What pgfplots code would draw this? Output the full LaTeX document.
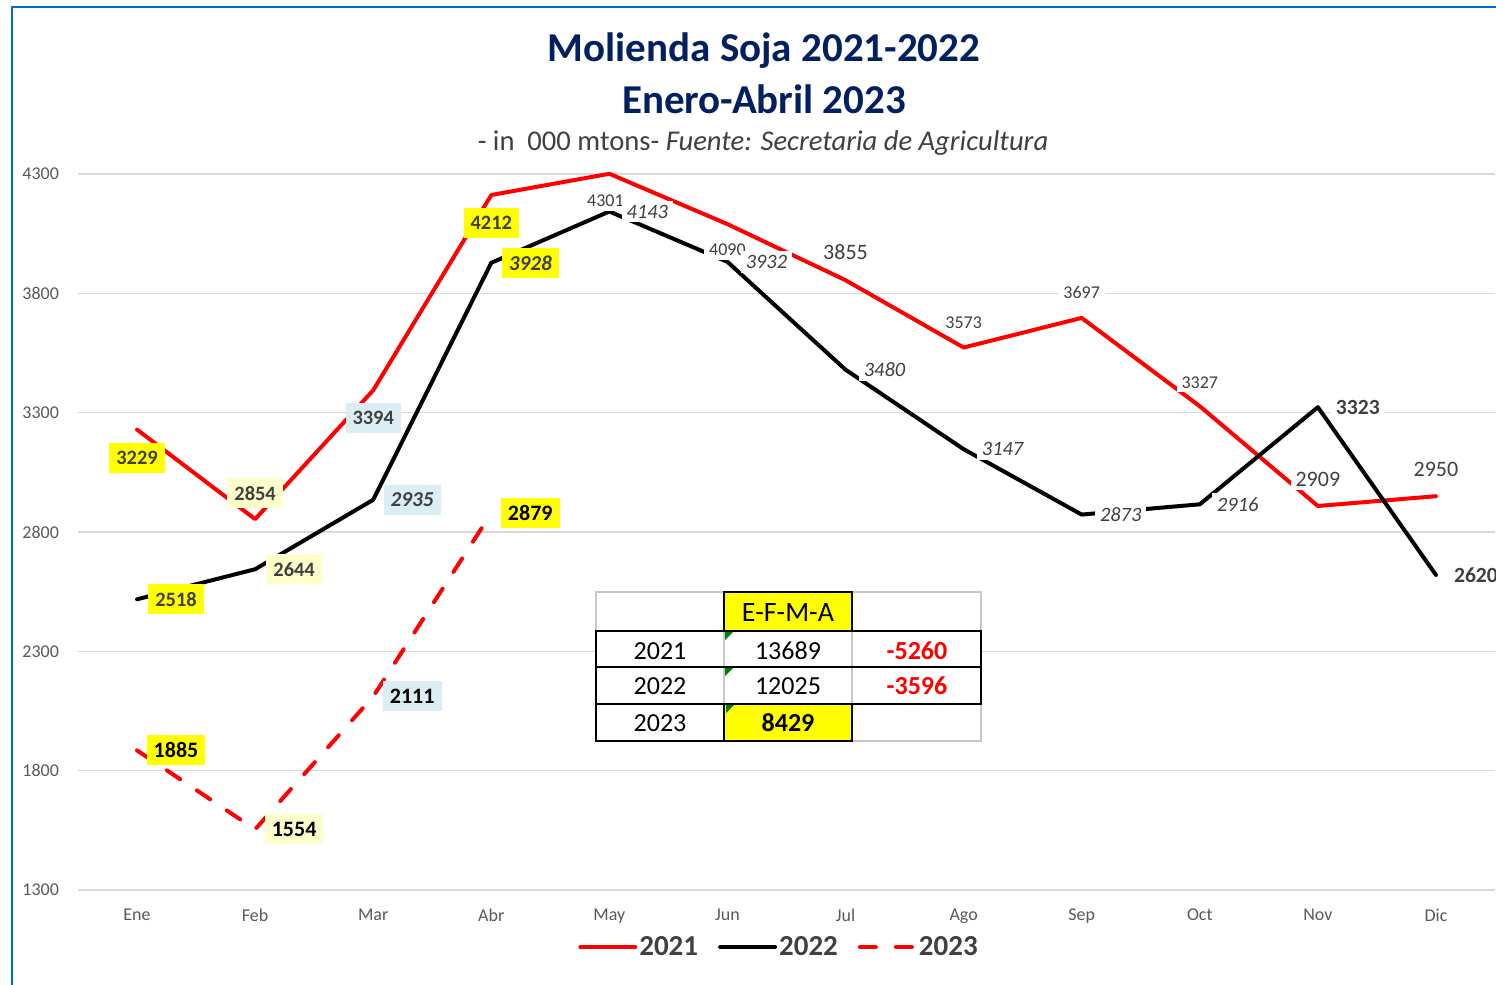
\documentclass[border=0pt]{standalone}
\usepackage{pgfplots}
\pgfplotsset{compat=1.18}
\usepackage{fontspec}
\setmainfont{Carlito}
\definecolor{navy}{RGB}{0,32,96}
\definecolor{gridgray}{RGB}{217,217,217}
\definecolor{txt}{RGB}{64,64,64}
\definecolor{tickc}{RGB}{89,89,89}
\definecolor{ylw}{RGB}{255,255,0}
\definecolor{lylw}{RGB}{255,255,204}
\definecolor{lblue}{RGB}{218,238,243}
\definecolor{framec}{RGB}{0,112,192}
\definecolor{xred}{RGB}{255,0,0}
\definecolor{tgray}{RGB}{200,200,200}
\definecolor{xgreen}{RGB}{0,128,0}
\begin{document}
\begin{tikzpicture}[
  lbase/.style={inner xsep=2.5pt, inner ysep=2pt, fill=white, text=txt, anchor=center},
  lplain/.style={lbase, font=\fontsize{9}{10}\selectfont},
  lbig/.style={lbase, font=\fontsize{11}{12}\selectfont},
  lit/.style={lbase, font=\itshape\fontsize{10.2}{11}\selectfont},
  lbb/.style={lbase, font=\bfseries\fontsize{10.8}{12}\selectfont},
  lbox/.style={lbase, inner xsep=3.5pt, minimum height=15pt, font=\bfseries\fontsize{10.2}{12}\selectfont},
  lboxi/.style={lbox, font=\bfseries\itshape\fontsize{10.6}{12}\selectfont},
  lbox3/.style={lbox, text=black, font=\bfseries\fontsize{11}{12}\selectfont},
]
\useasboundingbox (0pt,0pt) rectangle (748pt,-492.5pt);
\fill[white] (0pt,0pt) rectangle (748pt,-492.5pt);
\draw[framec, line width=1.2pt] (6pt,-500pt) -- (6pt,-3.6pt) -- (760pt,-3.6pt);

\node[text=navy, font=\bfseries\fontsize{20.5}{24}\selectfont] at (382pt,-25.5pt) {Molienda Soja 2021-2022};
\node[text=navy, font=\bfseries\fontsize{20.5}{24}\selectfont] at (382pt,-49.5pt) {Enero-Abril 2023};
\node[text=txt, font=\fontsize{14.3}{16}\selectfont] at (381.5pt,-71.5pt) {- in\ \ 000 mtons- \textit{Fuente: Secretaria de Agricultura}};

\begin{axis}[
  at={(39pt,-445pt)}, anchor=south west,
  scale only axis, width=708.5pt, height=358pt,
  xmin=-0.5, xmax=11.5, ymin=1300, ymax=4300,
  xtick={0,...,11},
  xticklabels={Ene,Feb,Mar,Abr,May,Jun,Jul,Ago,Sep,Oct,Nov,Dic},
  ytick={1300,1800,2300,2800,3300,3800,4300},
  ymajorgrids, grid style={gridgray, line width=0.8pt},
  axis line style={draw=none}, major tick length=0pt,
  tick label style={font=\fontsize{9}{10}\selectfont, text=tickc},
  /pgf/number format/assume math mode=true,
  /pgf/number format/1000 sep={},
  yticklabel style={xshift=-6pt},
  xticklabel style={yshift=-6pt},
  clip=false,
  legend style={at={(0.4947,-0.0796)}, anchor=center, legend columns=3,
    draw=none, fill=none, font=\bfseries\fontsize{14.5}{16}\selectfont, text=txt,
    nodes={inner xsep=1pt},
    /tikz/every odd column/.style={column sep=0pt},
    /tikz/every even column/.style={column sep=9pt}},
  legend image code/.code={\draw (0pt,0pt) -- (27.5pt,0pt);},
]
\addplot[xred, line width=2pt, line join=round, line cap=round] coordinates {
 (0,3229) (1,2854) (2,3394) (3,4212) (4,4301) (5,4090)
 (6,3855) (7,3573) (8,3697) (9,3327) (10,2909) (11,2950)};
\addlegendentry{2021}
\addplot[black, line width=2pt, line join=round, line cap=round] coordinates {
 (0,2518) (1,2644) (2,2935) (3,3928) (4,4143) (5,3932)
 (6,3480) (7,3147) (8,2873) (9,2916) (10,3323) (11,2620)};
\addlegendentry{2022}
\addplot[xred, line width=2pt, line join=round, line cap=round, dash pattern=on 8pt off 10pt] coordinates {
 (0,1885) (1,1554) (2,2111) (3,2879)};
\addlegendentry{2023}

% 2021 labels
\node[lbox, fill=ylw, yshift=-14pt] at (axis cs:0,3229) {3229};
\node[lbox, fill=lylw, yshift=13pt] at (axis cs:1,2854) {2854};
\node[lbox, fill=lblue, yshift=-14pt] at (axis cs:2,3394) {3394};
\node[lbox, fill=ylw, yshift=-14pt] at (axis cs:3,4212) {4212};
\node[lplain, xshift=-2pt, yshift=-13.5pt] at (axis cs:4,4301) {4301};
\node[lplain, yshift=-13pt] at (axis cs:5,4090) {4090};
\node[lbig, yshift=14pt] at (axis cs:6,3855) {3855};
\node[lplain, yshift=12.5pt] at (axis cs:7,3573) {3573};
\node[lplain, yshift=12.5pt] at (axis cs:8,3697) {3697};
\node[lplain, yshift=12pt] at (axis cs:9,3327) {3327};
\node[lbig, yshift=13.5pt] at (axis cs:10,2909) {2909};
\node[lbig, yshift=13.5pt] at (axis cs:11,2950) {2950};
% 2022 labels
\node[lbox, fill=ylw, xshift=19.5pt] at (axis cs:0,2518) {2518};
\node[lbox, fill=lylw, xshift=19.5pt] at (axis cs:1,2644) {2644};
\node[lboxi, fill=lblue, xshift=19.5pt] at (axis cs:2,2935) {2935};
\node[lboxi, fill=ylw, xshift=19.5pt] at (axis cs:3,3928) {3928};
\node[lit, xshift=19pt] at (axis cs:4,4143) {4143};
\node[lit, xshift=19.5pt] at (axis cs:5,3932) {3932};
\node[lit, xshift=19.5pt] at (axis cs:6,3480) {3480};
\node[lit, xshift=19.5pt] at (axis cs:7,3147) {3147};
\node[lit, xshift=19.5pt] at (axis cs:8,2873) {2873};
\node[lit, xshift=19pt] at (axis cs:9,2916) {2916};
\node[lbb, xshift=20pt] at (axis cs:10,3323) {3323};
\node[lbb, xshift=20pt] at (axis cs:11,2620) {2620};
% 2023 labels
\node[lbox3, fill=ylw, xshift=19.5pt] at (axis cs:0,1885) {1885};
\node[lbox3, fill=lylw, xshift=19.5pt] at (axis cs:1,1554) {1554};
\node[lbox3, fill=lblue, xshift=19.5pt] at (axis cs:2,2111) {2111};
\node[lbox3, fill=ylw, xshift=19.5pt] at (axis cs:3,2879) {2879};
\end{axis}

% summary table
\fill[white] (298pt,-296pt) rectangle (490.5pt,-370.5pt);
\draw[tgray, line width=0.6pt] (298pt,-296pt) rectangle (490.5pt,-370.5pt);
\draw[tgray, line width=0.6pt] (362pt,-296pt) -- (362pt,-370.5pt);
\draw[tgray, line width=0.6pt] (426pt,-296pt) -- (426pt,-370.5pt);
\draw[black, line width=0.8pt] (298pt,-315.5pt) rectangle (490.5pt,-352pt);
\draw[black, line width=0.8pt] (298pt,-333.5pt) -- (490.5pt,-333.5pt);
\draw[black, line width=0.8pt] (298pt,-352pt) rectangle (362pt,-370.5pt);
\filldraw[fill=ylw, draw=black, line width=1.2pt] (362pt,-296pt) rectangle (426pt,-315.5pt);
\filldraw[fill=ylw, draw=black, line width=1.2pt] (362pt,-352pt) rectangle (426pt,-370.5pt);
\fill[xgreen] (362.6pt,-316.1pt) -- (366.5pt,-316.1pt) -- (362.6pt,-320pt) -- cycle;
\fill[xgreen] (362.6pt,-334.1pt) -- (366.5pt,-334.1pt) -- (362.6pt,-338pt) -- cycle;
\fill[xgreen] (363pt,-352.6pt) -- (366.9pt,-352.6pt) -- (363pt,-356.5pt) -- cycle;
\begin{scope}[every node/.style={font=\fontsize{13}{15}\selectfont, text=black}]
\node[font=\fontsize{14}{16}\selectfont] at (394pt,-306.5pt) {E-F-M-A};
\node at (330pt,-325.5pt) {2021};
\node at (394pt,-325.5pt) {13689};
\node[text=xred, font=\bfseries\fontsize{13}{15}\selectfont] at (458.5pt,-325.5pt) {-5260};
\node at (330pt,-343pt) {2022};
\node at (394pt,-343pt) {12025};
\node[text=xred, font=\bfseries\fontsize{13}{15}\selectfont] at (458.5pt,-343pt) {-3596};
\node at (330pt,-361.5pt) {2023};
\node[font=\bfseries\fontsize{13}{15}\selectfont] at (394pt,-361.5pt) {8429};
\end{scope}
\end{tikzpicture}
\end{document}
